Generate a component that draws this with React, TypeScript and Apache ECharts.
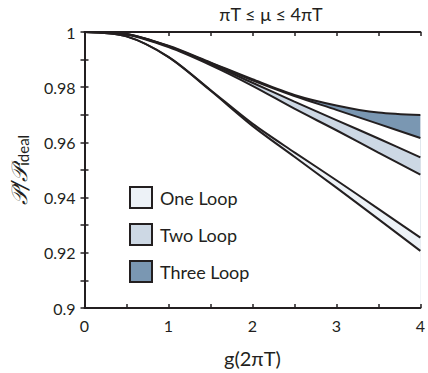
import React, { useEffect, useRef } from "react";
import * as echarts from "echarts";

const xs = [0, 0.5, 1, 1.5, 2, 2.5, 3, 3.5, 4];
const oneLoopUpper = [1, 0.9984, 0.991, 0.979, 0.9668, 0.9564, 0.9463, 0.9359, 0.9255];
const oneLoopLower = [1, 0.9984, 0.9909, 0.9788, 0.966, 0.9548, 0.9436, 0.9322, 0.9207];
const twoLoopUpper = [1, 0.9992, 0.9948, 0.9885, 0.9816, 0.9748, 0.9681, 0.9614, 0.9546];
const twoLoopLower = [1, 0.9991, 0.9945, 0.988, 0.9805, 0.9722, 0.9644, 0.9563, 0.9483];
const threeLoopUpper = [1, 0.9993, 0.995, 0.989, 0.9829, 0.9772, 0.9734, 0.9708, 0.9699];
const threeLoopLower = [1, 0.9993, 0.9949, 0.9888, 0.9825, 0.9768, 0.9718, 0.9667, 0.9616];

const bandNames = ["One Loop", "Two Loop", "Three Loop"];
const bandColors = ["#edf2f7", "#cdd8e4", "#7a97b2"];
const ink = "#231f20";
const font = "Lato";

const toPts = (ys: number[]) => xs.map((x, i) => [x, ys[i]]);

function fill(name: string, ys: number[], color: string, z: number) {
  return {
    type: "line",
    name,
    smooth: 0.3,
    showSymbol: false,
    symbol: "none",
    silent: true,
    itemStyle: { color },
    lineStyle: { width: 0, color },
    areaStyle: { color, opacity: 1, origin: "start" },
    z,
    data: toPts(ys),
  };
}

function outline(name: string, ys: number[]) {
  return {
    type: "line",
    name,
    smooth: 0.3,
    showSymbol: false,
    symbol: "none",
    lineStyle: { color: ink, width: 2 },
    z: 12,
    data: toPts(ys),
  };
}

export default function App() {
  const ref = useRef<HTMLDivElement>(null);
  useEffect(() => {
    if (!ref.current) return;
    const chart = echarts.init(ref.current, null, { renderer: "svg" });
    const tickCommon = {
      z: 20,
      axisTick: { show: true, inside: true, length: 4, lineStyle: { color: ink, width: 1.5 } },
      axisLine: { show: true, lineStyle: { color: ink, width: 2 } },
      splitLine: { show: false },
    };
    chart.setOption({
      animation: false,
      backgroundColor: "#ffffff",
      title: {
        text: "πT ≤ μ ≤ 4πT",
        left: 266,
        textAlign: "center",
        top: 0,
        textStyle: { fontFamily: font, fontSize: 18, fontWeight: "normal", color: ink },
      },
      legend: {
        orient: "vertical",
        left: 124,
        top: 181,
        z: 30,
        itemWidth: 22,
        itemHeight: 21,
        itemGap: 14,
        icon: "rect",
        data: bandNames,
        itemStyle: { borderColor: ink, borderWidth: 2 },
        textStyle: { fontFamily: font, fontSize: 18, color: ink, padding: [0, 0, 0, 3] },
      },
      grid: { left: 81, right: 4, top: 32, bottom: 55, containLabel: false },
      xAxis: [
        {
          type: "value",
          min: 0,
          max: 4,
          interval: 0.5,
          ...tickCommon,
          axisLabel: {
            margin: 9,
            fontFamily: font,
            fontSize: 16,
            color: ink,
            formatter: (v: number) => (Math.abs(v - Math.round(v)) < 1e-6 ? String(Math.round(v)) : ""),
          },
          name: "g(2πT)",
          nameLocation: "middle",
          nameGap: 40,
          nameTextStyle: { fontFamily: font, fontSize: 20, color: ink },
        },
        {
          type: "value",
          position: "top",
          min: 0,
          max: 4,
          interval: 0.5,
          ...tickCommon,
          axisLabel: { show: false },
        },
      ],
      yAxis: [
        {
          type: "value",
          min: 0.9,
          max: 1,
          interval: 0.01,
          ...tickCommon,
          axisLabel: {
            margin: 9,
            fontFamily: font,
            fontSize: 16,
            color: ink,
            formatter: (v: number) => {
              const k = Math.round(v * 100);
              return k % 2 === 0 ? String(+(k / 100).toFixed(2)) : "";
            },
          },
          name: "{p|𝒫/𝒫}{s|ideal}",
          nameLocation: "middle",
          nameRotate: 90,
          nameGap: 54,
          nameTextStyle: {
            color: ink,
            rich: {
              p: { fontFamily: "DejaVu Serif", fontStyle: "italic", fontSize: 22, color: ink },
              s: { fontFamily: font, fontSize: 15, color: ink, verticalAlign: "bottom", padding: [8, 0, 0, 0] },
            },
          },
        },
        {
          type: "value",
          position: "right",
          min: 0.9,
          max: 1,
          interval: 0.01,
          ...tickCommon,
          axisLabel: { show: false },
        },
      ],
      series: [
        fill(bandNames[2], threeLoopUpper, bandColors[2], 2),
        fill("three_lower", threeLoopLower, "#ffffff", 3),
        fill(bandNames[1], twoLoopUpper, bandColors[1], 4),
        fill("two_lower", twoLoopLower, "#ffffff", 5),
        fill(bandNames[0], oneLoopUpper, bandColors[0], 6),
        fill("one_lower", oneLoopLower, "#ffffff", 7),
        outline("three_upper_line", threeLoopUpper),
        outline("three_lower_line", threeLoopLower),
        outline("two_upper_line", twoLoopUpper),
        outline("two_lower_line", twoLoopLower),
        outline("one_upper_line", oneLoopUpper),
        outline("one_lower_line", oneLoopLower),
      ],
    });
    return () => chart.dispose();
  }, []);
  return (
    <div
      ref={ref}
      style={{ position: "fixed", left: 0, top: 0, width: 428, height: 373, background: "#fff" }}
    />
  );
}
